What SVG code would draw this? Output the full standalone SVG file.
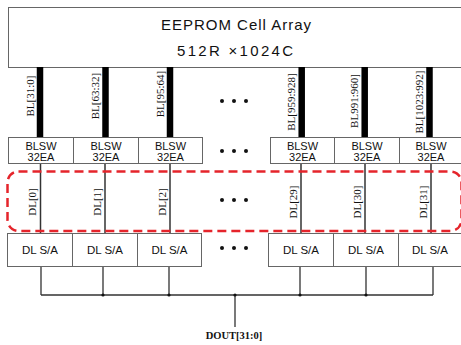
<svg xmlns="http://www.w3.org/2000/svg" width="461" height="345" viewBox="0 0 461 345">
<style>
.box{fill:#fff;stroke:#666;stroke-width:1}
.sans{font-family:"Liberation Sans",Arial,sans-serif;fill:#111}
.serif{font-family:"Liberation Serif","Times New Roman",serif;fill:#111}
.t11{font-size:11px;text-anchor:middle}
.sa{font-size:11.5px;text-anchor:middle}
.lbl{font-size:11px;text-anchor:middle}
.bl{stroke:#000;stroke-width:6.5}
.dl{stroke:#333;stroke-width:1.5}
.wire{stroke:#333;stroke-width:1.3;fill:none}
.dot{fill:#111}
</style>
<rect width="461" height="345" fill="#fff"/>
<g id="cell-array">
<rect class="box" x="8.5" y="7.5" width="460" height="60"/>
<text class="sans" x="236" y="30" font-size="15" text-anchor="middle" textLength="150" lengthAdjust="spacing">EEPROM Cell Array</text>
<text class="sans" x="235" y="56" font-size="15" text-anchor="middle" textLength="116" lengthAdjust="spacing">512R ×1024C</text>
</g>
<g id="connectors">
<line class="bl" x1="40" y1="67" x2="40" y2="137"/>
<line class="bl" x1="105.5" y1="67" x2="105.5" y2="137"/>
<line class="bl" x1="170" y1="67" x2="170" y2="137"/>
<line class="bl" x1="301.7" y1="67" x2="301.7" y2="137"/>
<line class="bl" x1="364.7" y1="67" x2="364.7" y2="137"/>
<line class="bl" x1="429.5" y1="67" x2="429.5" y2="137"/>
<line class="dl" x1="40.5" y1="163" x2="40.5" y2="233"/>
<line class="dl" x1="105" y1="163" x2="105" y2="233"/>
<line class="dl" x1="170" y1="163" x2="170" y2="233"/>
<line class="dl" x1="301" y1="163" x2="301" y2="233"/>
<line class="dl" x1="365" y1="163" x2="365" y2="233"/>
<line class="dl" x1="431" y1="163" x2="431" y2="233"/>
<path class="wire" d="M41 266V295M103 266V295M169 266V295M300 266V295M366 266V295M433 266V295M41 295H433M235 295V327"/>
<circle class="dot" cx="103" cy="295" r="1.6"/>
<circle class="dot" cx="169" cy="295" r="1.6"/>
<circle class="dot" cx="235" cy="295" r="1.6"/>
<circle class="dot" cx="300" cy="295" r="1.6"/>
<circle class="dot" cx="366" cy="295" r="1.6"/>
</g>
<g id="bl-labels">
<text class="serif lbl" transform="translate(34,96) rotate(-90)">BL[31:0]</text>
<text class="serif lbl" transform="translate(99,96) rotate(-90)">BL[63:32]</text>
<text class="serif lbl" transform="translate(164,94) rotate(-90)">BL[95:64]</text>
<text class="serif lbl" transform="translate(295,102) rotate(-90)">BL[959:928]</text>
<text class="serif lbl" transform="translate(358,101) rotate(-90)">BL991:960]</text>
<text class="serif lbl" transform="translate(423,102) rotate(-90)">BL[1023:992]</text>
</g>
<g id="blsw-0"><rect class="box" x="8.5" y="137.5" width="65" height="26"/><text class="sans t11" x="41" y="150">BLSW</text><text class="sans t11" x="41" y="160.5">32EA</text></g>
<g id="blsw-1"><rect class="box" x="73.5" y="137.5" width="65" height="26"/><text class="sans t11" x="106" y="150">BLSW</text><text class="sans t11" x="106" y="160.5">32EA</text></g>
<g id="blsw-2"><rect class="box" x="138.5" y="137.5" width="64" height="26"/><text class="sans t11" x="170.5" y="150">BLSW</text><text class="sans t11" x="170.5" y="160.5">32EA</text></g>
<g id="blsw-29"><rect class="box" x="270.5" y="137.5" width="64" height="26"/><text class="sans t11" x="302.5" y="150">BLSW</text><text class="sans t11" x="302.5" y="160.5">32EA</text></g>
<g id="blsw-30"><rect class="box" x="334.5" y="137.5" width="65" height="26"/><text class="sans t11" x="367" y="150">BLSW</text><text class="sans t11" x="367" y="160.5">32EA</text></g>
<g id="blsw-31"><rect class="box" x="399.5" y="137.5" width="70" height="26"/><text class="sans t11" x="431" y="150">BLSW</text><text class="sans t11" x="431" y="160.5">32EA</text></g>
<g id="dl-labels">
<text class="serif lbl" transform="translate(36,202) rotate(-90)">DL[0]</text>
<text class="serif lbl" transform="translate(101,202) rotate(-90)">DL[1]</text>
<text class="serif lbl" transform="translate(166,202) rotate(-90)">DL[2]</text>
<text class="serif lbl" transform="translate(297,202) rotate(-90)">DL[29]</text>
<text class="serif lbl" transform="translate(361,202) rotate(-90)">DL[30]</text>
<text class="serif lbl" transform="translate(427,202) rotate(-90)">DL[31]</text>
</g>
<g id="dl-region">
<rect x="7.5" y="171.5" width="454" height="59.5" rx="11" fill="none" stroke="#e5242b" stroke-width="2.5" stroke-dasharray="9 5"/>
</g>
<g id="sa-0"><rect class="box" x="7.5" y="233.5" width="65" height="33"/><text class="sans sa" x="40" y="254">DL S/A</text></g>
<g id="sa-1"><rect class="box" x="72.5" y="233.5" width="65" height="33"/><text class="sans sa" x="105" y="254">DL S/A</text></g>
<g id="sa-2"><rect class="box" x="137.5" y="233.5" width="64" height="33"/><text class="sans sa" x="169.5" y="254">DL S/A</text></g>
<g id="sa-29"><rect class="box" x="268.5" y="233.5" width="65" height="33"/><text class="sans sa" x="301" y="254">DL S/A</text></g>
<g id="sa-30"><rect class="box" x="333.5" y="233.5" width="65" height="33"/><text class="sans sa" x="366" y="254">DL S/A</text></g>
<g id="sa-31"><rect class="box" x="398.5" y="233.5" width="70" height="33"/><text class="sans sa" x="430" y="254">DL S/A</text></g>
<g id="ellipses">
<circle class="dot" cx="222" cy="101" r="2"/><circle class="dot" cx="234" cy="101" r="2"/><circle class="dot" cx="246" cy="101" r="2"/>
<circle class="dot" cx="222" cy="151" r="2"/><circle class="dot" cx="234" cy="151" r="2"/><circle class="dot" cx="246" cy="151" r="2"/>
<circle class="dot" cx="222" cy="200" r="2"/><circle class="dot" cx="234" cy="200" r="2"/><circle class="dot" cx="246" cy="200" r="2"/>
<circle class="dot" cx="222" cy="248" r="2"/><circle class="dot" cx="234" cy="248" r="2"/><circle class="dot" cx="246" cy="248" r="2"/>
</g>
<g id="dout">
<text class="serif" x="234" y="339" font-size="10.5" font-weight="bold" text-anchor="middle">DOUT[31:0]</text>
</g>
</svg>
